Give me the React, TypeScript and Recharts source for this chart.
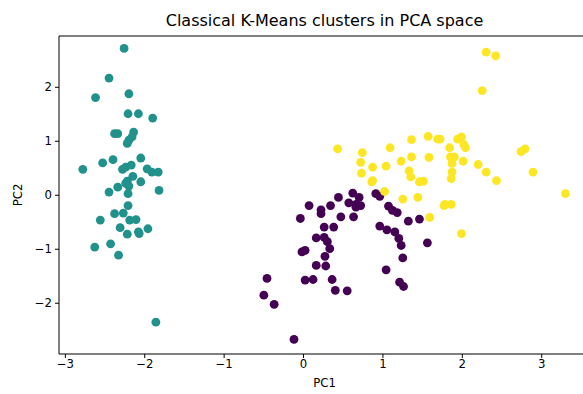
import React from 'react';
import { ScatterChart, Scatter, XAxis, YAxis, ReferenceLine } from 'recharts';

const cluster1: [number, number][] = [
  [-2.26, 2.72], [-2.45, 2.17], [-2.62, 1.81], [-2.2, 1.88], [-2.21, 1.51], [-2.08, 1.51], [-1.9, 1.43],
  [-2.38, 1.14], [-2.34, 1.14], [-2.14, 1.17], [-2.2, 1.02], [-2.22, 0.96], [-2.16, 1.08],
  [-2.78, 0.48], [-2.53, 0.6], [-2.4, 0.66], [-2.05, 0.69], [-2.28, 0.48], [-2.24, 0.52], [-2.17, 0.56],
  [-1.97, 0.49], [-1.91, 0.43], [-1.83, 0.43], [-2.15, 0.35], [-2.22, 0.26], [-2.24, 0.22], [-2.05, 0.25],
  [-2.34, 0.15], [-2.2, 0.17], [-2.21, 0.03], [-2.45, 0.06], [-1.82, 0.09], [-2.21, -0.19], [-2.38, -0.34],
  [-2.27, -0.33], [-2.56, -0.46], [-2.19, -0.46], [-2.11, -0.45], [-2.31, -0.6], [-1.96, -0.62],
  [-2.22, -0.72], [-2.08, -0.68], [-2.07, -0.71], [-2.63, -0.96], [-2.43, -0.9], [-2.33, -1.11], [-1.86, -2.35],
];

const cluster0: [number, number][] = [
  [0.07, -0.19], [0.22, -0.27], [0.22, -0.34], [0.34, -0.19], [0.44, -0.04], [0.62, 0.04], [0.57, -0.14],
  [0.66, -0.17], [-0.04, -0.43], [0.47, -0.4], [0.63, -0.4], [0.26, -0.59], [0.38, -0.59], [0.16, -0.79],
  [0.26, -0.78], [0.3, -0.86], [0.33, -0.99], [-0.02, -1.05], [0.02, -1.02], [0.27, -1.13], [0.16, -1.3],
  [0.28, -1.31], [-0.46, -1.54], [0.02, -1.57], [0.12, -1.56], [0.36, -1.56], [-0.5, -1.85], [-0.37, -2.02],
  [0.4, -1.76], [0.55, -1.77], [-0.12, -2.67], [0.7, -0.04], [0.66, -0.22], [0.72, -0.19], [0.91, 0.03],
  [0.96, -0.02], [1.07, -0.2], [1.12, -0.28], [1.18, -0.32], [1.32, -0.48], [1.46, -0.44], [0.96, -0.57],
  [1.05, -0.64], [1.15, -0.68], [1.2, -0.8], [1.23, -0.93], [1.56, -0.88], [1.25, -1.16], [1.04, -1.38],
  [1.21, -1.61], [1.26, -1.69],
];

const cluster2: [number, number][] = [
  [0.86, 0.25], [1.02, 0.07], [1.25, -0.07], [1.44, -0.04], [1.59, -0.41], [1.46, 0.25], [1.51, 0.26],
  [1.78, -0.17], [0.43, 0.86], [0.74, 0.79], [0.72, 0.61], [0.87, 0.52], [0.73, 0.41], [0.87, 0.27],
  [1.04, 0.54], [1.09, 0.88], [1.23, 0.63], [1.36, 1.03], [1.57, 1.09], [1.69, 1.04], [1.36, 0.71],
  [1.58, 0.7], [1.33, 0.45], [1.35, 0.34], [1.72, 1.04], [1.94, 1.04], [1.99, 1.08], [2.02, 0.94],
  [2.04, 0.88], [1.84, 0.88], [1.85, 0.71], [1.9, 0.71], [1.87, 0.59], [2.01, 0.63], [1.87, 0.43],
  [1.86, 0.31], [2.2, 0.57], [2.3, 0.43], [2.43, 0.27], [2.74, 0.81], [2.79, 0.86], [2.89, 0.43],
  [3.3, 0.03], [1.77, -0.19], [1.86, -0.17], [1.99, -0.71], [2.3, 2.65], [2.42, 2.58], [2.25, 1.94],
];

const xTicks = [-3, -2, -1, 0, 1, 2, 3];
const yTicks = [-2, -1, 0, 1, 2];
const xDomain: [number, number] = [-3.08, 3.52];
const yDomain: [number, number] = [-2.94, 2.95];

const toRows = (pts: [number, number][]) => pts.map(([x, y]) => ({ x, y }));

const dot = (color: string) => (props: any) => (
  <circle cx={props.cx} cy={props.cy} r={4.4} fill={color} />
);

const fmt = (v: number) => String(v).replace('-', '\u2212');
const font = 'DejaVu Sans, sans-serif';
const tickStyle = { fontSize: 11.7, fill: '#000', fontFamily: font };

export default function App() {
  return (
    <div style={{ position: 'absolute', left: 0, top: 0, width: 583, height: 394, background: '#fff' }}>
      <ScatterChart width={583} height={394} margin={{ top: 36, right: 0, bottom: 0, left: 0 }}>
        <XAxis
          type="number"
          dataKey="x"
          domain={xDomain}
          ticks={xTicks}
          allowDataOverflow
          height={40}
          tickSize={4}
          tickMargin={2}
          tickFormatter={fmt}
          tick={tickStyle}
          axisLine={{ stroke: '#000' }}
          tickLine={{ stroke: '#000' }}
        />
        <YAxis
          type="number"
          dataKey="y"
          domain={yDomain}
          ticks={yTicks}
          allowDataOverflow
          width={59}
          tickSize={4}
          tickMargin={3}
          tickFormatter={fmt}
          tick={tickStyle}
          axisLine={{ stroke: '#000' }}
          tickLine={{ stroke: '#000' }}
        />
        <ReferenceLine y={yDomain[1]} stroke="#000" strokeWidth={1} ifOverflow="extendDomain" />
        <Scatter data={toRows(cluster0)} fill="#440154" shape={dot('#440154')} isAnimationActive={false} />
        <Scatter data={toRows(cluster1)} fill="#21918c" shape={dot('#21918c')} isAnimationActive={false} />
        <Scatter data={toRows(cluster2)} fill="#fde725" shape={dot('#fde725')} isAnimationActive={false} />
      </ScatterChart>
      <div style={{ position: 'absolute', left: 0, width: 649, top: 11, lineHeight: '20px', textAlign: 'center', fontFamily: font, fontSize: 16, color: '#000' }}>
        Classical K-Means clusters in PCA space
      </div>
      <div style={{ position: 'absolute', left: 0, width: 649, top: 376, textAlign: 'center', fontFamily: font, fontSize: 11.7, color: '#000' }}>
        PC1
      </div>
      <div style={{ position: 'absolute', left: 11, top: 195, transform: 'translate(-50%, -50%) rotate(-90deg)', fontFamily: font, fontSize: 11.7, color: '#000', whiteSpace: 'nowrap', marginLeft: 7 }}>
        PC2
      </div>
    </div>
  );
}
